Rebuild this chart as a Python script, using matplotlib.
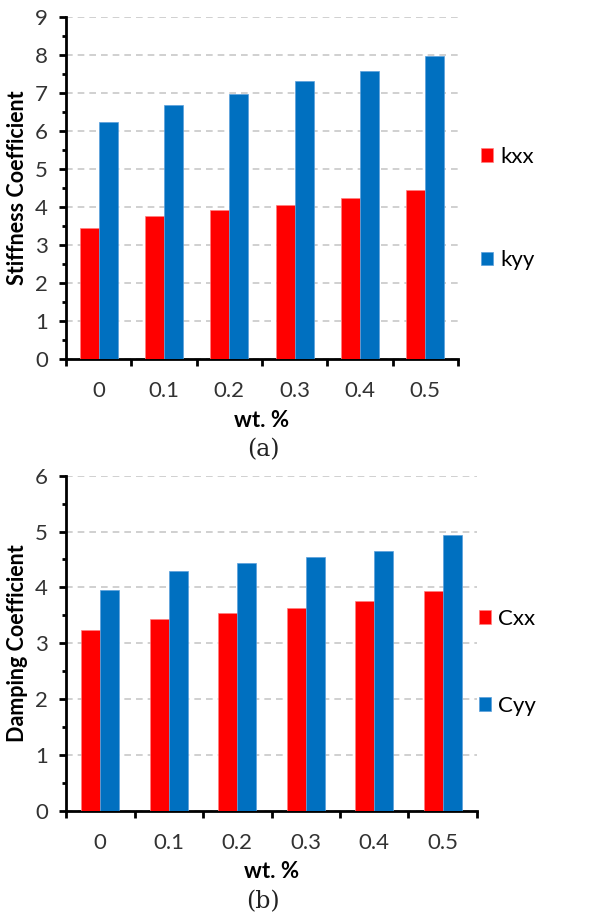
import matplotlib
matplotlib.use("Agg")
import matplotlib.pyplot as plt
import numpy as np

wt = ["0", "0.1", "0.2", "0.3", "0.4", "0.5"]
kxx = [3.45, 3.77, 3.92, 4.05, 4.24, 4.45]
kyy = [6.24, 6.69, 6.98, 7.32, 7.59, 7.97]
cxx = [3.24, 3.43, 3.54, 3.63, 3.75, 3.93]
cyy = [3.96, 4.30, 4.43, 4.55, 4.66, 4.93]

RED = "#FF0000"
BLUE = "#0070C0"
plt.rcParams["font.family"] = ["Lato", "DejaVu Sans"]


def bar_panel(ax, xs, ys, names, ymax, ylabel, bw, leg_anchor, leg_space):
    x = np.arange(len(wt))
    ax.bar(x - bw / 2, xs, bw, color=RED, edgecolor="#ff8080", linewidth=0.5, label=names[0], zorder=3)
    ax.bar(x + bw / 2, ys, bw, color=BLUE, edgecolor="#5aa0dc", linewidth=0.5, label=names[1], zorder=3)
    ax.set_xlim(-0.5, len(wt) - 0.5)
    ax.set_ylim(0, ymax)
    ax.set_yticks(range(0, ymax + 1))
    ax.set_yticks(np.arange(0.5, ymax, 1), minor=True)
    ax.set_xticks(x)
    ax.set_xticklabels(wt)
    ax.set_xticks(np.arange(-0.5, len(wt)), minor=True)
    ax.tick_params(axis="x", which="major", length=0, pad=16, labelsize=16, colors="#333333")
    ax.tick_params(axis="x", which="minor", length=5, width=2, direction="out")
    ax.tick_params(axis="y", which="major", length=5, width=2, pad=8, labelsize=16, labelcolor="#333333")
    ax.tick_params(axis="y", which="minor", length=3, width=2)
    for s in ["top", "right"]:
        ax.spines[s].set_visible(False)
    for s in ["left", "bottom"]:
        ax.spines[s].set_linewidth(2)
    ax.yaxis.grid(True, linestyle=(0, (4, 3)), color="#c8c8c8", linewidth=1.2, zorder=0)
    ax.set_axisbelow(True)
    ax.set_ylabel(ylabel, fontsize=15.5, fontweight="bold", labelpad=5)
    ax.set_xlabel("wt. %", fontsize=16, fontweight="bold", labelpad=6)
    fig = ax.figure
    fig.legend(loc="upper left", bbox_to_anchor=leg_anchor, frameon=False, fontsize=16,
               handlelength=0.55, handleheight=0.55, handletextpad=0.3,
               labelspacing=leg_space, borderpad=0, borderaxespad=0,
               handles=ax.get_legend_handles_labels()[0], labels=names)


fig = plt.figure(figsize=(6.09, 9.13), dpi=100)
ax1 = fig.add_axes([66 / 609, 1 - 359 / 913, (458 - 66) / 609, (359 - 17) / 913])
ax2 = fig.add_axes([66 / 609, 1 - 810.7 / 913, (477 - 66) / 609, (810.7 - 475.7) / 913])

bar_panel(ax1, kxx, kyy, ["kxx", "kyy"], 9, "Stiffness Coefficient", 0.29,
          (481 / 609, 1 - 147 / 913), 3.75)
bar_panel(ax2, cxx, cyy, ["Cxx", "Cyy"], 6, "Damping Coefficient", 0.28,
          (479 / 609, 1 - 609 / 913), 3.0)

fig.text(263 / 609, 1 - 450 / 913, "(a)", ha="center", va="center", fontsize=17,
         family="DejaVu Serif", color="#222222")
fig.text(263 / 609, 1 - 902 / 913, "(b)", ha="center", va="center", fontsize=17,
         family="DejaVu Serif", color="#222222")

fig.savefig("out.png", dpi=100)
